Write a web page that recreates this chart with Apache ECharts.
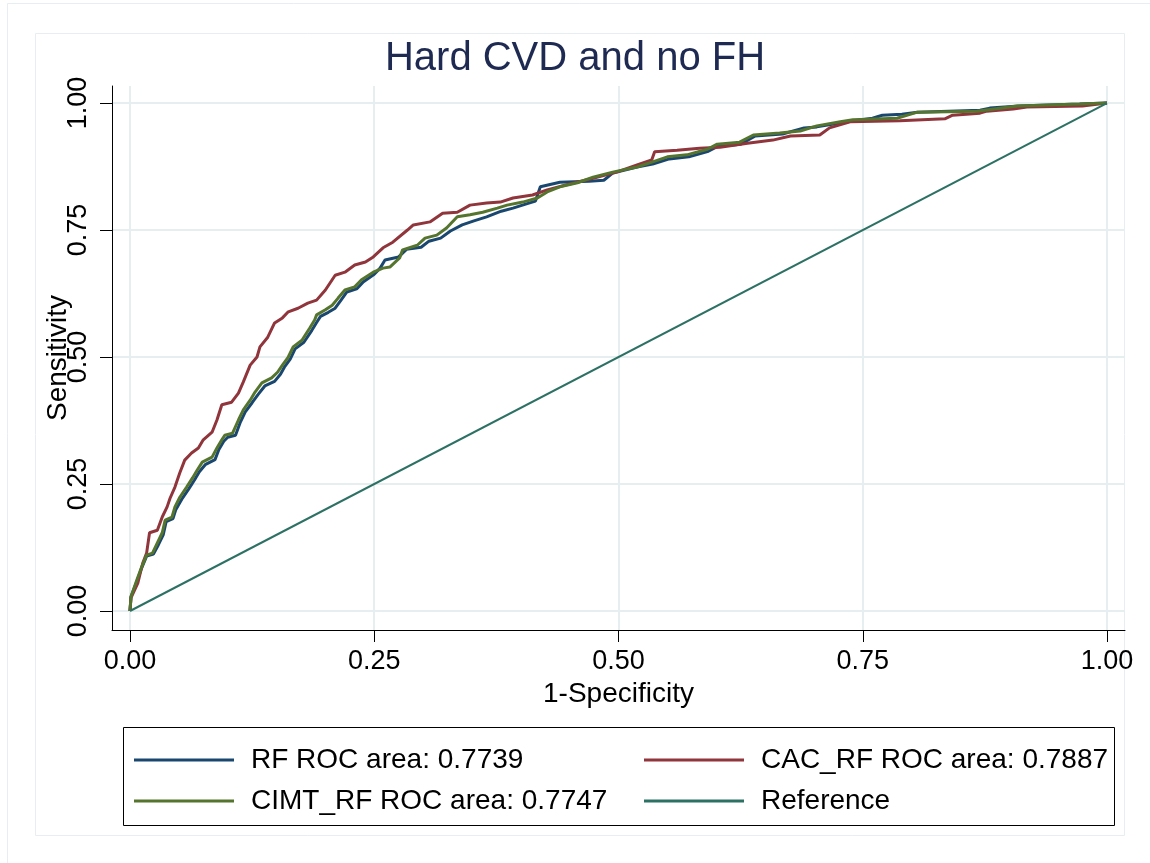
<!DOCTYPE html>
<html>
<head>
<meta charset="utf-8">
<script src="https://cdn.jsdelivr.net/npm/echarts@6/dist/echarts.min.js"></script>
<style>
html,body{margin:0;padding:0;background:#fff;}
#chart{width:1150px;height:863px;}
</style>
</head>
<body>
<div id="chart"></div>
<script>
const chartTitle = 'Hard CVD and no FH';
const xAxisName = '1-Specificity';
const yAxisName = 'Sensitivity';
const tickValues = [0, 0.25, 0.5, 0.75, 1];
const seriesNames = ['RF ROC area: 0.7739', 'CAC_RF ROC area: 0.7887', 'CIMT_RF ROC area: 0.7747', 'Reference'];

const rfPoints = [
  [0,0],[0.001,0.028],[0.007,0.058],[0.012,0.085],[0.017,0.108],[0.024,0.112],[0.029,0.130],
  [0.034,0.150],[0.037,0.176],[0.044,0.182],[0.047,0.200],[0.053,0.220],[0.060,0.240],
  [0.066,0.258],[0.071,0.274],[0.077,0.288],[0.087,0.298],[0.091,0.318],[0.096,0.334],
  [0.100,0.342],[0.108,0.346],[0.113,0.372],[0.118,0.392],[0.125,0.410],[0.131,0.426],
  [0.138,0.443],[0.148,0.452],[0.154,0.466],[0.158,0.480],[0.164,0.496],[0.169,0.516],
  [0.178,0.529],[0.186,0.552],[0.191,0.568],[0.195,0.580],[0.203,0.588],[0.210,0.596],
  [0.216,0.612],[0.222,0.628],[0.232,0.634],[0.239,0.648],[0.250,0.663],[0.256,0.675],
  [0.261,0.691],[0.275,0.697],[0.283,0.712],[0.298,0.716],[0.306,0.728],[0.318,0.734],
  [0.328,0.748],[0.340,0.760],[0.352,0.768],[0.365,0.776],[0.380,0.787],[0.392,0.793],
  [0.405,0.801],[0.415,0.807],[0.420,0.835],[0.440,0.844],[0.470,0.846],[0.485,0.848],
  [0.494,0.862],[0.519,0.874],[0.535,0.880],[0.552,0.890],[0.572,0.894],[0.592,0.905],
  [0.602,0.915],[0.625,0.919],[0.640,0.935],[0.668,0.939],[0.690,0.951],[0.703,0.953],
  [0.728,0.961],[0.741,0.965],[0.760,0.970],[0.770,0.976],[0.790,0.978],[0.806,0.982],
  [0.870,0.986],[0.880,0.990],[0.910,0.994],[0.972,0.998],[1,1]
];

const cacPoints = [
  [0,0],[0.001,0.026],[0.008,0.055],[0.013,0.094],[0.017,0.114],[0.020,0.154],[0.028,0.159],
  [0.033,0.185],[0.038,0.205],[0.041,0.222],[0.046,0.244],[0.051,0.272],[0.056,0.297],
  [0.063,0.311],[0.070,0.321],[0.075,0.337],[0.084,0.352],[0.089,0.376],[0.094,0.406],
  [0.104,0.411],[0.111,0.429],[0.116,0.451],[0.123,0.484],[0.130,0.500],[0.133,0.520],
  [0.141,0.539],[0.148,0.567],[0.156,0.577],[0.162,0.589],[0.172,0.596],[0.182,0.606],
  [0.191,0.612],[0.200,0.632],[0.210,0.661],[0.220,0.667],[0.230,0.681],[0.241,0.687],
  [0.249,0.697],[0.259,0.715],[0.269,0.726],[0.284,0.750],[0.290,0.760],[0.307,0.766],
  [0.320,0.783],[0.335,0.785],[0.348,0.799],[0.365,0.803],[0.379,0.805],[0.392,0.813],
  [0.412,0.819],[0.427,0.829],[0.447,0.839],[0.474,0.852],[0.498,0.864],[0.519,0.878],
  [0.534,0.888],[0.537,0.904],[0.560,0.907],[0.583,0.911],[0.604,0.913],[0.632,0.921],
  [0.658,0.927],[0.676,0.935],[0.706,0.937],[0.716,0.951],[0.737,0.963],[0.788,0.965],
  [0.834,0.969],[0.842,0.976],[0.870,0.980],[0.877,0.984],[0.904,0.988],[0.918,0.992],
  [0.975,0.994],[1,1]
];

const cimtPoints = [
  [0,0],[0.001,0.028],[0.007,0.061],[0.012,0.087],[0.017,0.110],[0.023,0.114],[0.028,0.134],
  [0.033,0.154],[0.036,0.179],[0.043,0.185],[0.046,0.205],[0.051,0.224],[0.058,0.244],
  [0.064,0.262],[0.069,0.278],[0.074,0.293],[0.084,0.303],[0.089,0.321],[0.094,0.337],
  [0.097,0.346],[0.105,0.350],[0.111,0.376],[0.116,0.396],[0.123,0.415],[0.128,0.431],
  [0.135,0.449],[0.145,0.459],[0.151,0.470],[0.156,0.484],[0.162,0.500],[0.167,0.520],
  [0.176,0.533],[0.184,0.557],[0.189,0.573],[0.191,0.583],[0.200,0.593],[0.207,0.602],
  [0.213,0.616],[0.220,0.632],[0.230,0.638],[0.237,0.652],[0.249,0.667],[0.259,0.675],
  [0.266,0.677],[0.276,0.695],[0.279,0.711],[0.294,0.720],[0.302,0.734],[0.314,0.740],
  [0.324,0.754],[0.335,0.776],[0.348,0.780],[0.361,0.785],[0.376,0.793],[0.386,0.799],
  [0.402,0.805],[0.417,0.813],[0.427,0.825],[0.440,0.835],[0.458,0.843],[0.474,0.854],
  [0.494,0.864],[0.519,0.874],[0.535,0.884],[0.550,0.894],[0.570,0.898],[0.591,0.909],
  [0.601,0.919],[0.624,0.923],[0.638,0.937],[0.665,0.941],[0.686,0.945],[0.703,0.955],
  [0.727,0.963],[0.740,0.967],[0.785,0.970],[0.806,0.982],[0.867,0.984],[0.908,0.994],
  [0.972,0.998],[1,1]
];

const refPoints = [[0,0],[1,1]];

const colors = ['#1a476f', '#90353b', '#55752f', '#2d7164'];
const FONT = "'Liberation Sans', Arial, Helvetica, sans-serif";

const chart = echarts.init(document.getElementById('chart'), null, {renderer: 'canvas'});

function lineSeries(name, data, color, width, z) {
  return {
    name: name, type: 'line', data: data, showSymbol: false, symbol: 'none',
    lineStyle: {color: color, width: width}, itemStyle: {color: color},
    z: z, silent: true, animation: false
  };
}

function legendBlock(left, names) {
  return {
    orient: 'vertical', left: left, top: 740, itemWidth: 100, itemHeight: 3, itemGap: 11,
    selectedMode: false, icon: 'rect',
    data: names,
    textStyle: {fontFamily: FONT, fontSize: 28, color: '#000', padding: [0, 0, 0, 12], lineHeight: 30}
  };
}

const option = {
  backgroundColor: '#ffffff',
  animation: false,
  title: {
    text: chartTitle, left: 'center', top: 34,
    textStyle: {fontFamily: FONT, fontSize: 40, fontWeight: 'normal', color: '#1e2a52'}
  },
  graphic: [
    {type: 'rect', shape: {x: 7.5, y: 3.5, width: 1160, height: 880}, style: {fill: 'none', stroke: '#e6eef1', lineWidth: 1}, silent: true, z: -10},
    {type: 'rect', shape: {x: 35.5, y: 33.5, width: 1089, height: 802}, style: {fill: 'none', stroke: '#e6eef1', lineWidth: 1}, silent: true, z: -10},
    {type: 'rect', shape: {x: 123.5, y: 727.5, width: 991, height: 98}, style: {fill: 'none', stroke: '#000', lineWidth: 1}, silent: true, z: 10}
  ],
  grid: {left: 112, right: 25, top: 86, bottom: 233, containLabel: false},
  xAxis: {
    type: 'value', min: -0.01842, max: 1.01842,
    name: xAxisName, nameLocation: 'middle', nameGap: 45,
    nameTextStyle: {fontFamily: FONT, fontSize: 28, color: '#000'},
    axisLine: {show: true, onZero: false, lineStyle: {color: '#000', width: 1}},
    axisTick: {show: true, length: 12, customValues: tickValues, lineStyle: {color: '#000', width: 1}},
    axisLabel: {customValues: tickValues, margin: 18, fontFamily: FONT, fontSize: 27, color: '#000',
      formatter: v => v.toFixed(2)},
    splitLine: {show: true, lineStyle: {color: '#e6eef0', width: 2}}
  },
  yAxis: {
    type: 'value', min: -0.0374, max: 1.0335,
    name: yAxisName, nameLocation: 'middle', nameGap: 40, nameMoveOverlap: false,
    nameTextStyle: {fontFamily: FONT, fontSize: 28, color: '#000'},
    axisLine: {show: true, onZero: false, lineStyle: {color: '#000', width: 1}},
    axisTick: {show: true, length: 12, customValues: tickValues, lineStyle: {color: '#000', width: 1}},
    axisLabel: {customValues: tickValues, margin: 20, rotate: 90, fontFamily: FONT, fontSize: 27, color: '#000',
      formatter: v => v.toFixed(2)},
    splitLine: {show: true, lineStyle: {color: '#e6eef0', width: 2}}
  },
  legend: [
    legendBlock(129, [seriesNames[0], seriesNames[2]]),
    legendBlock(639, [seriesNames[1], seriesNames[3]])
  ],
  series: [
    lineSeries(seriesNames[0], rfPoints, colors[0], 3, 2),
    lineSeries(seriesNames[1], cacPoints, colors[1], 3, 3),
    lineSeries(seriesNames[2], cimtPoints, colors[2], 3, 4),
    lineSeries(seriesNames[3], refPoints, colors[3], 2, 5)
  ]
};
chart.setOption(option);
</script>
</body>
</html>
